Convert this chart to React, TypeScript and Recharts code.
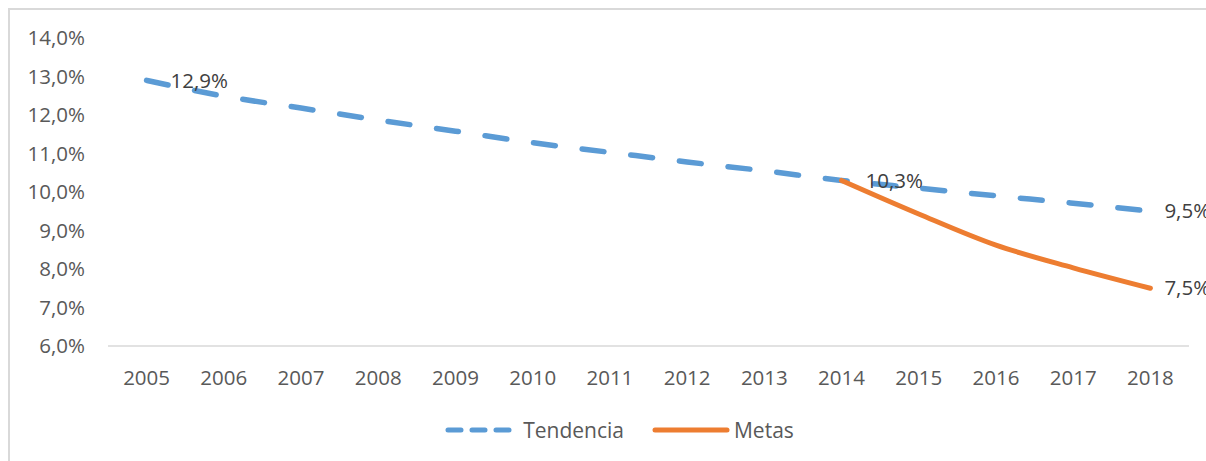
import { CartesianGrid, LabelList, Legend, Line, LineChart, XAxis, YAxis } from "recharts"

const YEARS = ["2005", "2006", "2007", "2008", "2009", "2010", "2011", "2012", "2013", "2014", "2015", "2016", "2017", "2018"]
const TENDENCIA = [12.9, 12.49, 12.18, 11.87, 11.58, 11.28, 11.03, 10.78, 10.55, 10.3, 10.1, 9.9, 9.71, 9.5]
const METAS = [null, null, null, null, null, null, null, null, null, 10.3, 9.43, 8.62, 8.03, 7.5]
const Y_TICKS = [6, 7, 8, 9, 10, 11, 12, 13, 14]
const TENDENCIA_LABELS = ["2005", "2014", "2018"]
const METAS_LABELS = ["2018"]

const BLUE = "#5B9BD5"
const ORANGE = "#ED7D31"
const FONT = "'Open Sans', sans-serif"

const data = YEARS.map((year, i) => ({
  year,
  tendencia: TENDENCIA[i],
  metas: METAS[i],
}))

const pct = (v: number) => v.toFixed(1).replace(".", ",") + "%"

function makeLabel(years: string[]) {
  return (props: any) => {
    const { x, y, value, index } = props
    if (value == null || !years.includes(YEARS[index])) return null
    const dx = index === YEARS.length - 1 ? 14 : 24
    return (
      <text
        x={x + dx}
        y={y}
        dy="0.35em"
        fill="#404040"
        fontSize={20.5}
        fontFamily={FONT}
      >
        {pct(value)}
      </text>
    )
  }
}

function LegendContent() {
  return (
    <div style={{ display: "flex", justifyContent: "center", alignItems: "center", fontFamily: FONT, fontSize: 21, color: "#595959", height: 44, paddingLeft: 40 }}>
      <svg width={70} height={10}>
        <line x1={3} y1={5} x2={67} y2={5} stroke={BLUE} strokeWidth={5} strokeLinecap="round" strokeDasharray="13 11" />
      </svg>
      <span style={{ marginLeft: 8 }}>Tendencia</span>
      <svg width={78} height={10} style={{ marginLeft: 28 }}>
        <line x1={3} y1={5} x2={75} y2={5} stroke={ORANGE} strokeWidth={5} strokeLinecap="round" />
      </svg>
      <span style={{ marginLeft: 4 }}>Metas</span>
    </div>
  )
}

export default function App() {
  return (
    <div style={{ position: "fixed", left: 0, top: 0, width: 1206, height: 461, overflow: "hidden", background: "#fff" }}>
      <div style={{ position: "absolute", left: 8, top: 8, width: 1215, height: 470, borderLeft: "2px solid #D9D9D9", borderTop: "2px solid #D9D9D9" }}>
        <LineChart width={1215} height={470} data={data} margin={{ top: 28, right: 36, left: 0, bottom: 28 }}>
          <CartesianGrid horizontal={false} vertical={false} />
          <XAxis
            dataKey="year"
            padding={{ left: 38.6, right: 38.6 }}
            axisLine={{ stroke: "#D9D9D9", strokeWidth: 1.5 }}
            tickLine={false}
            tickSize={0}
            tickMargin={24}
            height={62}
            interval={0}
            tick={{ fill: "#595959", fontSize: 20.5, fontFamily: FONT }}
          />
          <YAxis
            domain={[6, 14]}
            ticks={Y_TICKS}
            width={98}
            axisLine={false}
            tickLine={false}
            tickSize={0}
            tickMargin={23}
            tickFormatter={pct}
            tick={{ fill: "#595959", fontSize: 20.5, fontFamily: FONT }}
          />
          <Legend verticalAlign="bottom" height={44} content={<LegendContent />} />
          <Line
            type="monotone"
            dataKey="tendencia"
            name="Tendencia"
            stroke={BLUE}
            strokeWidth={5.5}
            strokeLinecap="round"
            strokeDasharray="22 27"
            dot={false}
            activeDot={false}
            isAnimationActive={false}
          >
            <LabelList dataKey="tendencia" content={makeLabel(TENDENCIA_LABELS)} />
          </Line>
          <Line
            type="monotone"
            dataKey="metas"
            name="Metas"
            stroke={ORANGE}
            strokeWidth={5}
            strokeLinecap="round"
            dot={false}
            activeDot={false}
            connectNulls={false}
            isAnimationActive={false}
          >
            <LabelList dataKey="metas" content={makeLabel(METAS_LABELS)} />
          </Line>
        </LineChart>
      </div>
    </div>
  )
}
